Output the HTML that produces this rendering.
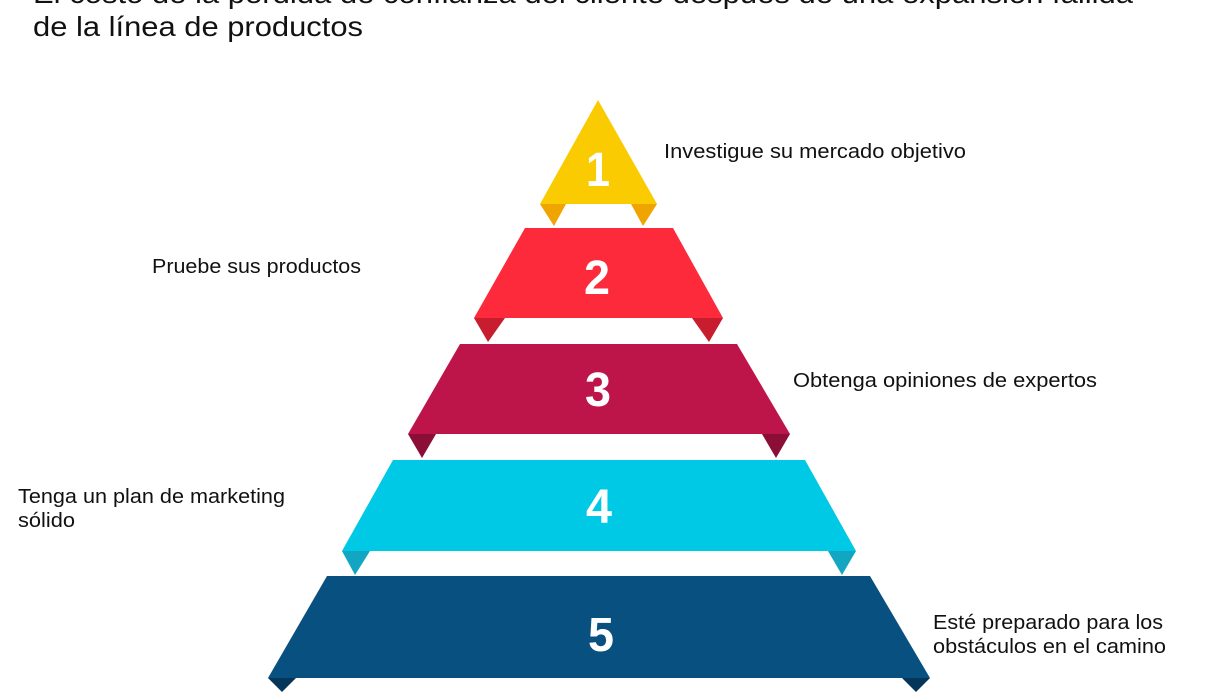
<!DOCTYPE html>
<html><head><meta charset="utf-8"><style>
html,body{margin:0;padding:0;background:#fff;}
svg{display:block}
.t{font-family:"Liberation Sans",Arial,sans-serif;font-size:28px;fill:#111}
.l{font-family:"Liberation Sans",Arial,sans-serif;font-size:20px;fill:#111}
.n{font-family:"Liberation Sans",Arial,sans-serif;font-size:48px;font-weight:bold;fill:#fff}
</style></head><body>
<svg width="1215" height="692" viewBox="0 0 1215 692" xmlns="http://www.w3.org/2000/svg">
<text class="t" x="33" y="3" textLength="1100" lengthAdjust="spacingAndGlyphs">El costo de la pérdida de confianza del cliente después de una expansión fallida</text>
<text class="t" x="33" y="36" textLength="330" lengthAdjust="spacingAndGlyphs">de la línea de productos</text>

<polygon points="540,204 566,204 554,226" fill="#efa400"/>
<polygon points="631,204 657,204 643,226" fill="#efa400"/>
<polygon points="598,100 657,204 540,204" fill="#f9cb00"/>
<text class="n" x="598" y="186" text-anchor="middle" textLength="24" lengthAdjust="spacingAndGlyphs">1</text>

<polygon points="474,318 505,318 488,342" fill="#c81d2e"/>
<polygon points="692,318 723,318 709,342" fill="#c81d2e"/>
<polygon points="525,228 673,228 723,318 474,318" fill="#fc2a3b"/>
<text class="n" x="597" y="294" text-anchor="middle" textLength="26" lengthAdjust="spacingAndGlyphs">2</text>

<polygon points="408,434 436,434 422,458" fill="#8a0e35"/>
<polygon points="762,434 790,434 776,458" fill="#8a0e35"/>
<polygon points="460,344 737,344 790,434 408,434" fill="#bd144a"/>
<text class="n" x="598" y="406" text-anchor="middle" textLength="26" lengthAdjust="spacingAndGlyphs">3</text>

<polygon points="342,551 370,551 355,575" fill="#12a6c2"/>
<polygon points="828,551 856,551 842,575" fill="#12a6c2"/>
<polygon points="393,460 805,460 856,551 342,551" fill="#00c9e6"/>
<text class="n" x="599" y="523" text-anchor="middle" textLength="26" lengthAdjust="spacingAndGlyphs">4</text>

<polygon points="268,678 296,678 282,692" fill="#05365a"/>
<polygon points="902,678 930,678 916,692" fill="#05365a"/>
<polygon points="327,576 870,576 930,678 268,678" fill="#07507f"/>
<text class="n" x="601" y="651" text-anchor="middle" textLength="26" lengthAdjust="spacingAndGlyphs">5</text>

<text class="l" x="664" y="158" textLength="302" lengthAdjust="spacingAndGlyphs">Investigue su mercado objetivo</text>
<text class="l" x="152" y="273" textLength="209" lengthAdjust="spacingAndGlyphs">Pruebe sus productos</text>
<text class="l" x="793" y="387" textLength="304" lengthAdjust="spacingAndGlyphs">Obtenga opiniones de expertos</text>
<text class="l" x="18" y="503" textLength="267" lengthAdjust="spacingAndGlyphs">Tenga un plan de marketing</text>
<text class="l" x="18" y="527" textLength="57" lengthAdjust="spacingAndGlyphs">sólido</text>
<text class="l" x="933" y="629" textLength="230" lengthAdjust="spacingAndGlyphs">Esté preparado para los</text>
<text class="l" x="933" y="653" textLength="233" lengthAdjust="spacingAndGlyphs">obstáculos en el camino</text>
</svg>
</body></html>
